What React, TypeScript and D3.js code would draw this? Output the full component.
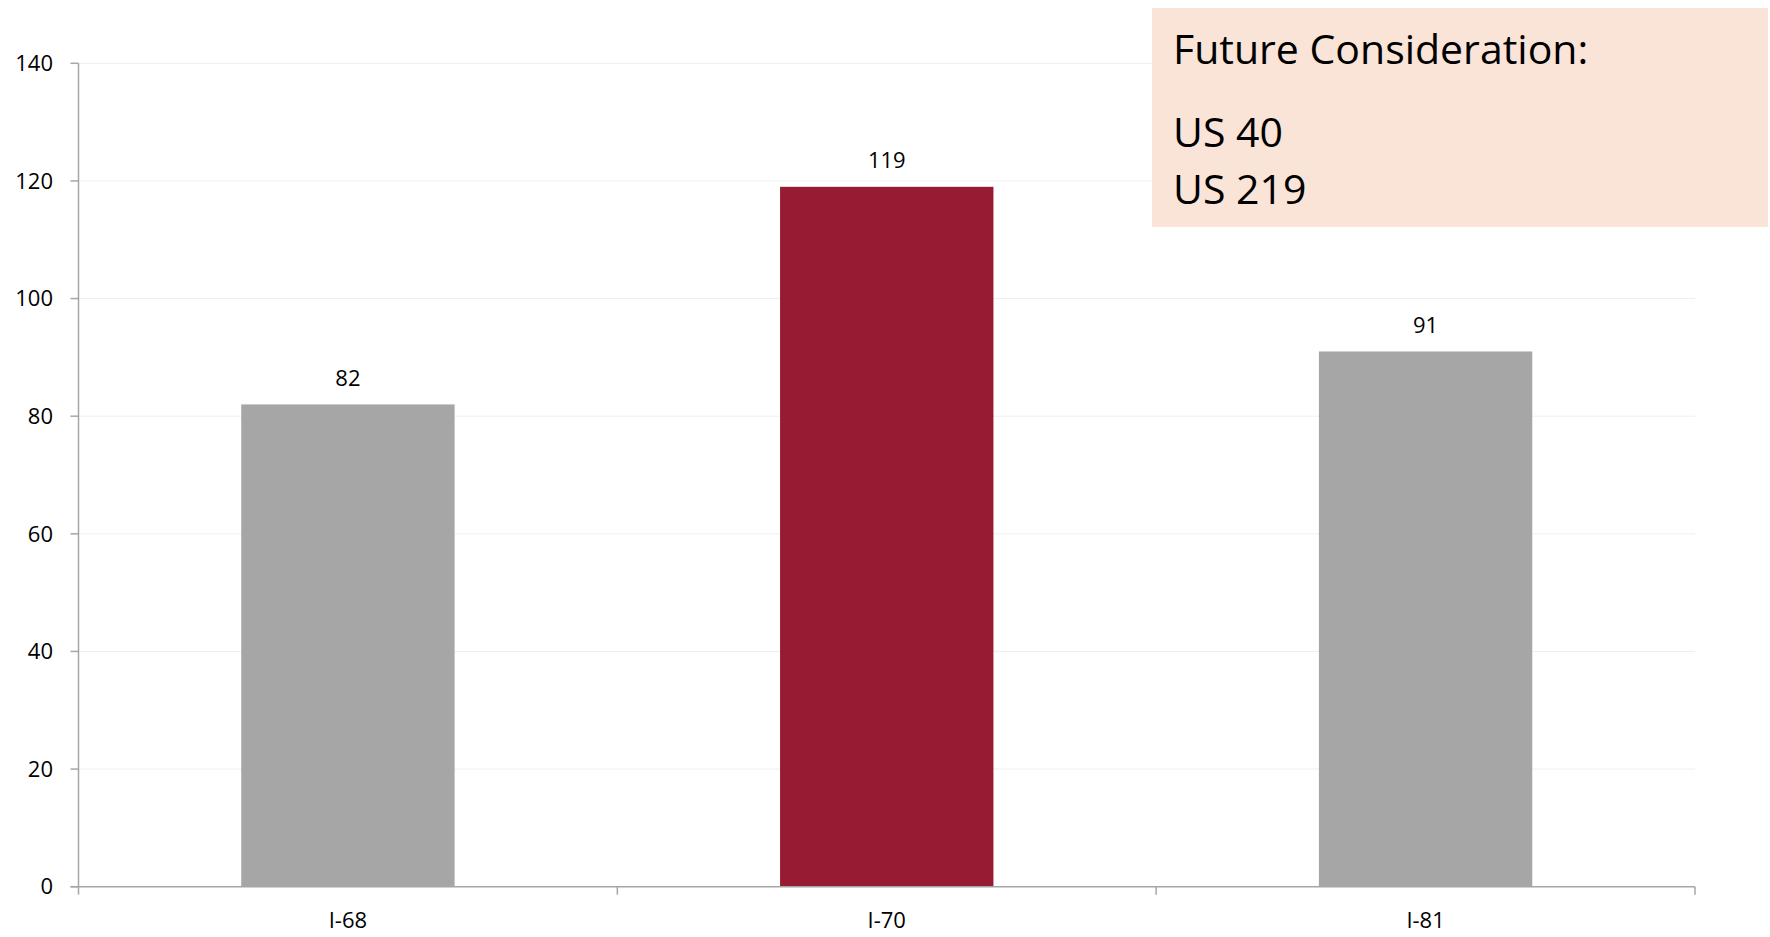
import React, { useEffect, useRef } from "react";
import * as d3 from "d3";

const categories = ["I-68", "I-70", "I-81"];
const values = [82, 119, 91];
const barColors = ["#A6A6A6", "#971B32", "#A6A6A6"];
const yTicks = [0, 20, 40, 60, 80, 100, 120, 140];
const noteTitle = "Future Consideration:";
const noteLines = ["US 40", "US 219"];

const W = 1770;
const H = 937;
const FONT = "'Open Sans', 'Liberation Sans', sans-serif";

export default function App() {
  const ref = useRef<SVGSVGElement | null>(null);

  useEffect(() => {
    const svg = d3.select(ref.current);
    svg.selectAll("*").remove();

    const left = 78.5, right = 1695, top = 63.3, bottom = 886.7;
    const x = d3.scaleBand<string>().domain(categories).range([left, right]).paddingInner(0.604).paddingOuter(0.302);
    const xb = d3.scaleBand<string>().domain(categories).range([left, right]);
    const y = d3.scaleLinear().domain([0, 140]).range([bottom, top]);

    // gridlines
    svg.append("g").selectAll("line").data(yTicks.filter((t) => t > 0)).join("line")
      .attr("x1", left).attr("x2", right)
      .attr("y1", (d) => y(d)).attr("y2", (d) => y(d))
      .attr("stroke", "#EFEFEF").attr("stroke-width", 1);

    // bars
    svg.append("g").selectAll("rect").data(values).join("rect")
      .attr("x", (_, i) => x(categories[i])!)
      .attr("width", x.bandwidth())
      .attr("y", (d) => y(d))
      .attr("height", (d) => y(0) - y(d))
      .attr("fill", (_, i) => barColors[i]);

    // value labels
    svg.append("g").selectAll("text").data(values).join("text")
      .attr("x", (_, i) => x(categories[i])! + x.bandwidth() / 2)
      .attr("y", (d) => y(d) - 18.5)
      .attr("text-anchor", "middle")
      .attr("font-family", FONT).attr("font-size", 22).attr("fill", "#000")
      .text((d) => String(d));

    // y axis
    const axisColor = "#A6A6A6";
    svg.append("line").attr("x1", left).attr("x2", left).attr("y1", top).attr("y2", bottom + 0.5)
      .attr("stroke", axisColor).attr("stroke-width", 1.5);
    svg.append("g").selectAll("line").data(yTicks).join("line")
      .attr("x1", left - 8).attr("x2", left)
      .attr("y1", (d) => y(d)).attr("y2", (d) => y(d))
      .attr("stroke", axisColor).attr("stroke-width", 1.5);
    svg.append("g").selectAll("text").data(yTicks).join("text")
      .attr("x", 53).attr("y", (d) => y(d)).attr("dy", "0.35em")
      .attr("text-anchor", "end")
      .attr("font-family", FONT).attr("font-size", 22).attr("fill", "#000")
      .text((d) => String(d));

    // x axis
    svg.append("line").attr("x1", left - 8).attr("x2", right).attr("y1", bottom).attr("y2", bottom)
      .attr("stroke", axisColor).attr("stroke-width", 1.5);
    const bounds = [...categories.map((c) => xb(c)!), right];
    svg.append("g").selectAll("line").data(bounds).join("line")
      .attr("x1", (d) => d).attr("x2", (d) => d)
      .attr("y1", bottom).attr("y2", bottom + 8)
      .attr("stroke", axisColor).attr("stroke-width", 1.5);
    svg.append("g").selectAll("text").data(categories).join("text")
      .attr("x", (d) => xb(d)! + xb.bandwidth() / 2)
      .attr("y", 928)
      .attr("text-anchor", "middle")
      .attr("font-family", FONT).attr("font-size", 22).attr("fill", "#000")
      .text((d) => d);

    // note box
    const g = svg.append("g");
    g.append("rect").attr("x", 1152).attr("y", 8).attr("width", 616).attr("height", 219).attr("fill", "#FAE3D7");
    g.append("text").attr("x", 1173).attr("y", 64)
      .attr("font-family", FONT).attr("font-size", 41).attr("fill", "#000").text(noteTitle);
    g.selectAll("text.ln").data(noteLines).join("text").attr("class", "ln")
      .attr("x", 1173).attr("y", (_, i) => 147 + i * 57)
      .attr("font-family", FONT).attr("font-size", 41).attr("fill", "#000")
      .text((d) => d);
  }, []);

  return (
    <svg ref={ref} width={W} height={H} style={{ position: "absolute", left: 0, top: 0, background: "#fff" }} />
  );
}
